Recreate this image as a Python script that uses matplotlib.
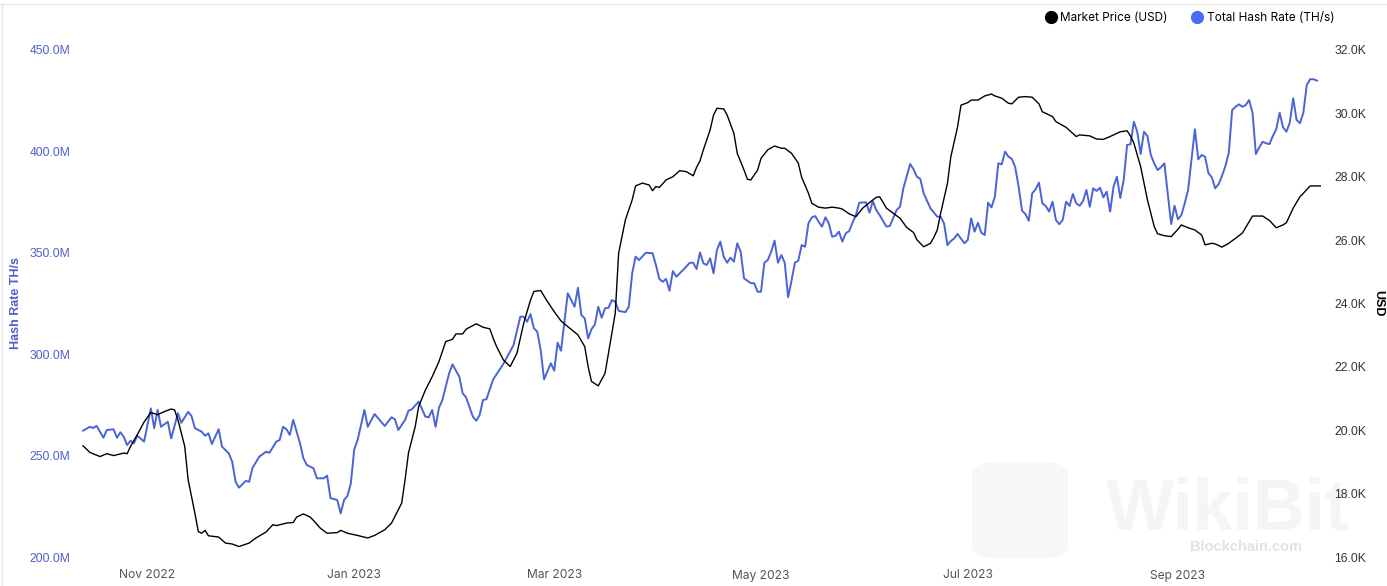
import matplotlib
matplotlib.use("Agg")
import matplotlib.pyplot as plt
import matplotlib.dates as mdates
from matplotlib.lines import Line2D
from matplotlib.patches import FancyBboxPatch
from matplotlib.ticker import FuncFormatter, MultipleLocator
import pandas as pd

START = pd.Timestamp("2022-10-13")

# total hash rate (M TH/s), keyed by days since START
hash_day = [
    0, 2, 3, 4, 6, 7, 9, 10, 11, 12, 13, 14, 15, 16, 18, 20, 21, 22, 23, 25,
    26, 28, 29, 31, 32, 33, 35, 36, 37, 38, 40, 41, 43, 44, 45, 46, 48, 49, 50, 52,
    54, 55, 57, 58, 59, 60, 61, 62, 64, 65, 66, 68, 69, 71, 72, 73, 75, 76, 77, 78,
    79, 80, 81, 83, 84, 86, 89, 91, 92, 93, 95, 96, 97, 99, 101, 102, 103, 104, 105, 106,
    108, 109, 111, 112, 113, 115, 116, 117, 118, 119, 121, 124, 127, 129, 130, 131, 132, 133, 134, 135,
    136, 138, 139, 140, 141, 143, 145, 146, 147, 148, 149, 150, 151, 152, 153, 154, 155, 156, 157, 158,
    160, 161, 162, 163, 164, 166, 168, 169, 170, 171, 172, 173, 174, 175, 177, 179, 180, 181, 182, 183,
    184, 185, 186, 187, 188, 189, 190, 191, 192, 193, 194, 195, 197, 198, 199, 200, 201, 202, 203, 204,
    205, 206, 207, 208, 209, 210, 211, 212, 213, 214, 215, 216, 217, 218, 219, 220, 221, 222, 223, 224,
    225, 226, 227, 228, 229, 231, 232, 233, 234, 235, 237, 238, 240, 241, 242, 244, 245, 246, 247, 248,
    250, 252, 253, 254, 255, 256, 257, 258, 260, 261, 262, 263, 264, 265, 266, 267, 268, 269, 270, 271,
    272, 273, 274, 275, 276, 277, 278, 279, 280, 281, 282, 283, 284, 285, 286, 287, 288, 289, 290, 291,
    292, 293, 294, 295, 296, 297, 298, 299, 300, 301, 302, 303, 304, 305, 306, 307, 308, 309, 310, 311,
    312, 313, 314, 315, 316, 317, 318, 319, 320, 321, 322, 323, 324, 325, 326, 327, 328, 329, 330, 331,
    332, 333, 334, 335, 336, 337, 338, 339, 340, 341, 342, 343, 344, 345, 346, 347, 348, 349, 350, 351,
    352, 353, 354, 355, 356, 357, 358, 359, 360, 361, 362, 363, 364,
]
hash_rate = [
    262.3, 264.2, 263.6, 264.7, 258.8, 262.6, 263.0, 258.8, 261.5, 259.3, 255.2, 257.3, 256.1, 259.8, 256.9, 273.3, 263.5, 272.5, 264.2, 266.7,
    258.5, 270.9, 266.2, 271.6, 269.5, 263.5, 261.8, 259.8, 261.0, 255.7, 263.0, 254.4, 251.1, 247.0, 237.1, 234.2, 237.5, 237.1, 244.0, 249.5,
    251.9, 251.4, 256.9, 257.7, 264.2, 263.0, 260.2, 267.6, 256.1, 248.7, 245.4, 243.7, 238.8, 238.8, 240.1, 229.0, 228.1, 221.5, 228.1, 230.1,
    236.3, 253.1, 257.7, 272.5, 264.2, 270.5, 264.6, 268.9, 267.9, 262.6, 267.6, 272.1, 272.8, 276.6, 269.2, 268.9, 272.5, 264.2, 273.6, 277.4,
    290.6, 295.0, 288.9, 280.7, 278.7, 269.2, 267.2, 270.0, 277.4, 277.8, 287.6, 295.2, 304.5, 318.5, 318.5, 316.0, 319.8, 312.8, 311.1, 302.1,
    287.6, 295.5, 291.9, 305.7, 301.7, 330.0, 323.4, 332.8, 319.3, 317.7, 307.8, 312.3, 314.7, 323.4, 318.0, 322.6, 322.9, 326.7, 325.9, 321.4,
    320.7, 323.4, 339.9, 348.1, 346.4, 350.0, 349.8, 344.0, 337.1, 335.7, 337.1, 331.3, 341.0, 338.2, 341.5, 345.1, 345.1, 342.0, 350.2, 344.8,
    344.0, 347.3, 339.9, 351.4, 355.5, 348.1, 345.1, 347.6, 345.6, 354.7, 350.5, 337.4, 335.0, 335.0, 330.8, 330.8, 345.1, 346.4, 350.5, 356.0,
    345.1, 348.9, 345.1, 328.1, 336.2, 345.1, 346.1, 353.8, 353.0, 364.5, 367.5, 368.1, 365.3, 362.9, 367.5, 364.5, 357.9, 358.4, 360.4, 355.5,
    359.6, 360.7, 364.8, 368.6, 374.7, 374.9, 369.8, 375.5, 371.1, 368.6, 362.9, 363.2, 371.1, 372.7, 381.8, 393.8, 391.2, 387.5, 386.4, 379.3,
    371.9, 367.8, 367.8, 364.5, 353.8, 355.8, 357.1, 359.3, 354.7, 356.3, 367.0, 360.4, 364.8, 359.9, 358.8, 374.7, 372.4, 377.7, 394.1, 393.6,
    399.9, 397.4, 396.3, 392.2, 382.6, 370.8, 369.1, 365.8, 379.3, 381.3, 384.6, 374.4, 373.1, 370.3, 375.2, 366.2, 364.1, 366.2, 375.2, 373.1,
    379.0, 374.4, 373.2, 375.5, 381.0, 372.7, 381.8, 380.5, 382.1, 377.4, 380.1, 370.3, 382.6, 387.5, 377.0, 385.9, 403.2, 403.5, 414.6, 409.7,
    398.7, 409.7, 407.6, 398.2, 394.1, 390.8, 392.2, 394.1, 379.3, 364.2, 373.2, 366.5, 368.6, 374.4, 381.0, 395.8, 410.9, 396.1, 398.2, 397.4,
    389.2, 387.2, 381.8, 383.9, 387.9, 392.8, 399.4, 420.4, 422.0, 423.2, 422.0, 422.9, 425.3, 419.1, 398.7, 402.0, 404.8, 404.0, 403.6, 407.6,
    410.9, 419.1, 411.9, 409.7, 414.2, 426.2, 415.5, 413.9, 419.1, 432.7, 435.6, 435.6, 434.9,
]

# market price (K USD), keyed by days since START
price_day = [
    0, 2, 5, 7, 9, 12, 13, 14, 16, 18, 20, 22, 24, 26, 27, 28, 30, 31, 33, 34,
    35, 36, 37, 40, 42, 44, 46, 49, 51, 54, 56, 57, 60, 62, 63, 65, 67, 68, 70, 72,
    75, 76, 78, 81, 84, 86, 89, 91, 92, 94, 95, 96, 98, 99, 101, 103, 105, 107, 109, 110,
    112, 113, 116, 118, 120, 121, 122, 124, 126, 128, 130, 132, 133, 135, 137, 139, 141, 143, 146, 148,
    149, 150, 152, 154, 155, 157, 158, 160, 162, 163, 165, 167, 168, 169, 170, 172, 174, 176, 178, 180,
    181, 182, 183, 185, 186, 187, 189, 190, 192, 193, 195, 196, 197, 199, 200, 202, 204, 206, 207, 209,
    211, 212, 214, 215, 217, 219, 221, 223, 224, 226, 228, 230, 233, 234, 235, 237, 239, 241, 243, 244,
    245, 246, 248, 250, 251, 252, 253, 255, 256, 258, 259, 261, 262, 264, 266, 268, 269, 271, 273, 274,
    276, 278, 280, 282, 283, 285, 286, 287, 290, 293, 294, 297, 299, 301, 303, 304, 306, 308, 309, 310,
    312, 314, 316, 317, 319, 321, 323, 324, 326, 328, 330, 331, 333, 334, 336, 338, 342, 345, 348, 350,
    352, 354, 355, 357, 359, 360, 362, 365,
]
price = [
    19.51, 19.30, 19.17, 19.26, 19.20, 19.28, 19.26, 19.49, 19.86, 20.26, 20.56, 20.49, 20.59, 20.67, 20.64, 20.33, 19.49, 18.44, 17.38, 16.80,
    16.75, 16.84, 16.67, 16.63, 16.44, 16.41, 16.33, 16.44, 16.60, 16.79, 17.02, 16.99, 17.07, 17.09, 17.26, 17.36, 17.26, 17.15, 16.91, 16.75,
    16.77, 16.84, 16.75, 16.68, 16.60, 16.68, 16.86, 17.07, 17.28, 17.70, 18.44, 19.28, 20.12, 20.75, 21.27, 21.69, 22.17, 22.80, 22.87, 23.04,
    23.04, 23.19, 23.36, 23.25, 23.20, 22.90, 22.64, 22.22, 22.01, 22.43, 23.38, 24.11, 24.38, 24.41, 24.06, 23.74, 23.45, 23.27, 23.01, 22.64,
    22.01, 21.54, 21.40, 21.80, 22.43, 23.69, 25.59, 26.64, 27.27, 27.71, 27.80, 27.74, 27.56, 27.69, 27.66, 27.90, 28.00, 28.19, 28.16, 28.03,
    28.30, 28.50, 28.85, 29.48, 29.95, 30.16, 30.14, 29.95, 29.37, 28.74, 28.21, 27.92, 27.90, 28.21, 28.58, 28.85, 28.97, 28.90, 28.90, 28.74,
    28.43, 27.98, 27.48, 27.16, 27.04, 27.01, 27.04, 27.01, 26.98, 26.83, 26.74, 27.01, 27.27, 27.35, 27.37, 27.01, 26.85, 26.69, 26.40, 26.32,
    26.24, 26.01, 25.79, 25.90, 26.09, 26.32, 26.85, 27.79, 28.63, 29.58, 30.26, 30.34, 30.42, 30.42, 30.55, 30.61, 30.55, 30.48, 30.32, 30.30,
    30.51, 30.53, 30.51, 30.30, 30.05, 29.95, 29.90, 29.74, 29.56, 29.27, 29.32, 29.29, 29.19, 29.18, 29.27, 29.32, 29.42, 29.45, 29.29, 29.06,
    28.32, 27.27, 26.43, 26.20, 26.14, 26.11, 26.34, 26.48, 26.39, 26.32, 26.16, 25.85, 25.90, 25.88, 25.78, 25.90, 26.22, 26.76, 26.76, 26.62,
    26.39, 26.48, 26.55, 27.01, 27.37, 27.48, 27.71, 27.71,
]

HASH_COLOR = "#4a64d8"
HASH_TICK = "#4d60cc"
W, H = 1387, 586

hash_dates = START + pd.to_timedelta(hash_day, unit="D")
price_dates = START + pd.to_timedelta(price_day, unit="D")

fig = plt.figure(figsize=(W / 100, H / 100), dpi=100)
ax = fig.add_axes([80 / W, 1 - 557 / H, (1322 - 80) / W, (557 - 50) / H])
ax2 = ax.twinx()

# faint watermark, kept under the axes
fig.patches.append(FancyBboxPatch((972 / W, 1 - 558 / H), 96 / W, 96 / H,
                                  boxstyle="round,pad=0,rounding_size=0.02",
                                  transform=fig.transFigure, facecolor="#f7f7f7",
                                  edgecolor="none", zorder=-2))
fig.text(1228 / W, 1 - 510 / H, "WikiBit", fontsize=52, fontweight="bold",
         color="#f5f5f5", ha="center", va="center", family="Liberation Sans", zorder=-2)
fig.text(1246 / W, 1 - 547 / H, "Blockchain.com", fontsize=10.5, fontweight="bold",
         color="#e2e2e2", ha="center", va="center", family="Liberation Sans", zorder=-2)

ax.plot(hash_dates, hash_rate, color=HASH_COLOR, lw=1.4)
ax2.plot(price_dates, price, color="black", lw=1.0)

ax.set_ylim(200, 450)
ax2.set_ylim(16, 32)
ax.yaxis.set_major_locator(MultipleLocator(50))
ax2.yaxis.set_major_locator(MultipleLocator(2))
ax.yaxis.set_major_formatter(FuncFormatter(lambda v, p: f"{v:.1f}M"))
ax2.yaxis.set_major_formatter(FuncFormatter(lambda v, p: f"{v:.1f}K"))

ax.set_xlim(START - pd.Timedelta(days=0.9), START + pd.Timedelta(days=365.5))
ax.xaxis.set_major_locator(mdates.MonthLocator(bymonth=[1, 3, 5, 7, 9, 11]))
ax.xaxis.set_major_formatter(mdates.DateFormatter("%b %Y"))

for a in (ax, ax2):
    for s in a.spines.values():
        s.set_visible(False)
    a.patch.set_visible(False)

ax.tick_params(axis="y", length=0, pad=7, labelsize=8.7, labelcolor=HASH_TICK)
ax.tick_params(axis="x", length=0, pad=9, labelsize=8.7, labelcolor="#555555")
ax2.tick_params(axis="y", length=0, pad=9, labelsize=8.7, labelcolor="#333333")
for lab in ax.get_yticklabels() + ax2.get_yticklabels():
    lab.set_family("Liberation Sans")
for lab in ax.get_xticklabels():
    lab.set_family("Inter")

fig.text(16 / W, 1 - 303 / H, "Hash Rate TH/s", rotation=90, fontsize=9,
         fontweight="bold", color=HASH_TICK, ha="center", va="center",
         family="Liberation Sans")
fig.text(1378 / W, 1 - 303 / H, "USD", rotation=-90, fontsize=9,
         fontweight="bold", color="black", ha="center", va="center",
         family="Liberation Sans")

handles = [
    Line2D([], [], ls="none", marker="o", ms=8.5, color="black"),
    Line2D([], [], ls="none", marker="o", ms=8.5, color="#4a6cf0"),
]
fig.legend(handles, ["Market Price (USD)", "Total Hash Rate (TH/s)"],
           loc="center right", bbox_to_anchor=(1345 / W, 1 - 18 / H), ncol=2,
           frameon=False, handlelength=0.7, handletextpad=0.45, columnspacing=2.2,
           prop={"family": "Inter", "size": 8.5})

# card border
fig.add_artist(Line2D([0, 1], [1 - 4 / H] * 2, transform=fig.transFigure,
                      color="#e6e6e6", lw=1))
fig.add_artist(Line2D([1.5 / W] * 2, [0, 1 - 4 / H], transform=fig.transFigure,
                      color="#e6e6e6", lw=1))

fig.savefig("out.png", dpi=100)
